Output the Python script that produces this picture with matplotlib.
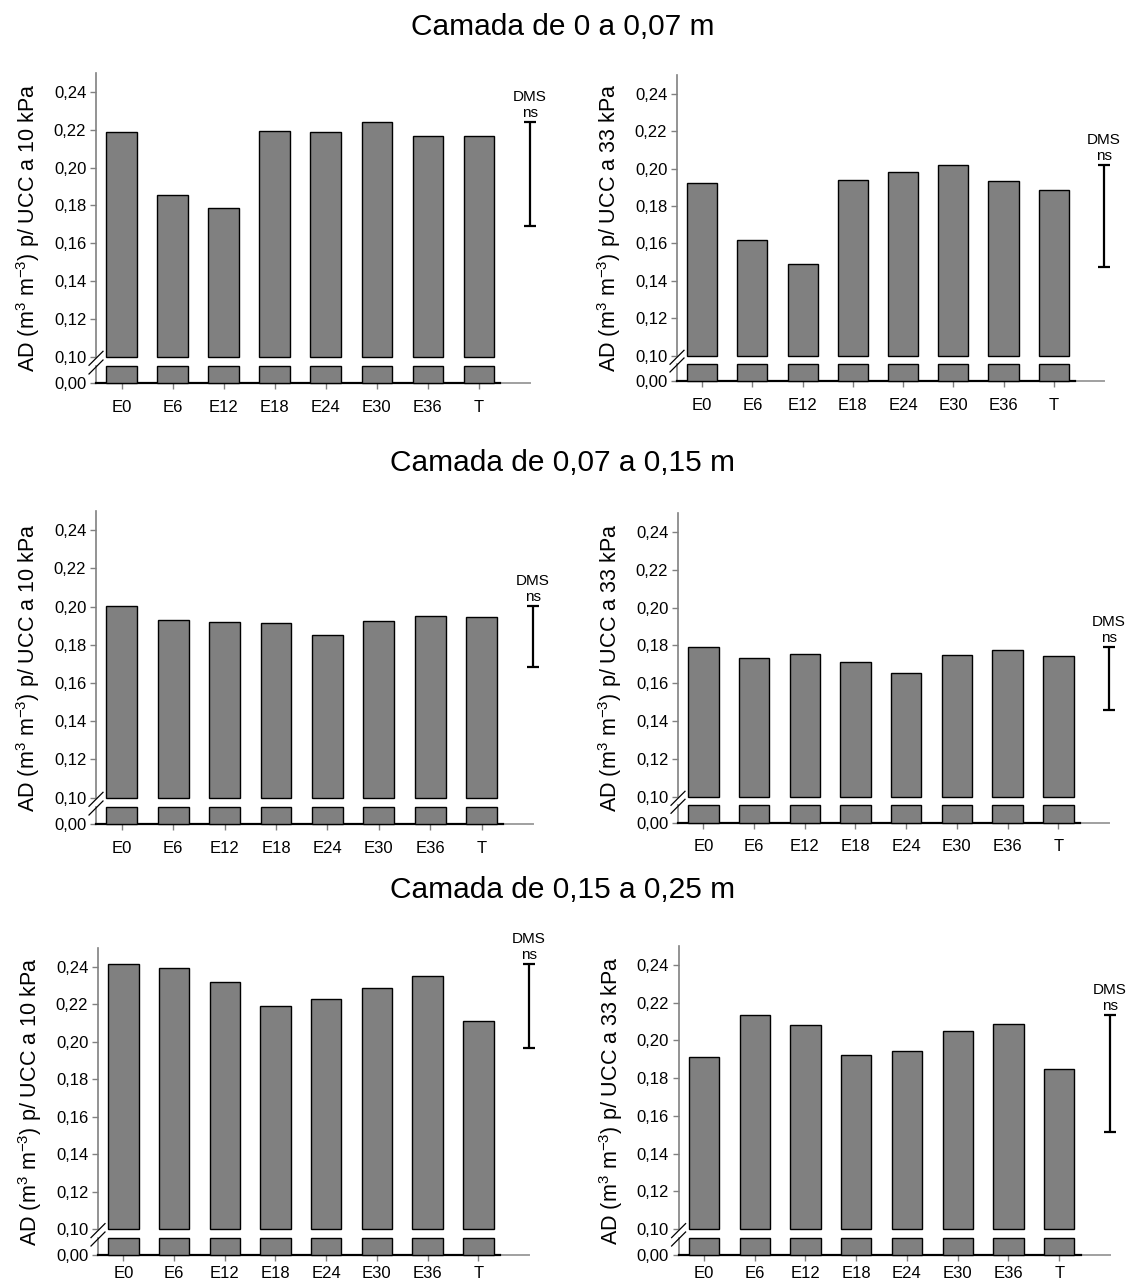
import numpy as np
import matplotlib
matplotlib.use("Agg")
import matplotlib.pyplot as plt

plt.rcParams['font.family'] = ['Liberation Sans', 'DejaVu Sans']
plt.rcParams['mathtext.fontset'] = 'custom'
plt.rcParams['mathtext.rm'] = 'Liberation Sans'
plt.rcParams['mathtext.it'] = 'Liberation Sans:italic'
plt.rcParams['mathtext.bf'] = 'Liberation Sans:bold'

# ---------------- data ----------------
categories = ["E0", "E6", "E12", "E18", "E24", "E30", "E36", "T"]
ytick_values = [0.10, 0.12, 0.14, 0.16, 0.18, 0.20, 0.22, 0.24]

titles = ["Camada de 0 a 0,07 m", "Camada de 0,07 a 0,15 m", "Camada de 0,15 a 0,25 m"]

# 10 kPa (left) and 33 kPa (right), one list per layer
ad10_layer1 = [0.2188, 0.1854, 0.1787, 0.2195, 0.2190, 0.2243, 0.2165, 0.2169]
ad33_layer1 = [0.1923, 0.1616, 0.1488, 0.1938, 0.1982, 0.2018, 0.1932, 0.1886]
ad10_layer2 = [0.2004, 0.1931, 0.1917, 0.1914, 0.1849, 0.1926, 0.1952, 0.1948]
ad33_layer2 = [0.1789, 0.1734, 0.1752, 0.1710, 0.1655, 0.1750, 0.1775, 0.1743]
ad10_layer3 = [0.2414, 0.2393, 0.2316, 0.2190, 0.2228, 0.2288, 0.2350, 0.2110]
ad33_layer3 = [0.1910, 0.2136, 0.2081, 0.1921, 0.1944, 0.2049, 0.2086, 0.1847]

# DMS bars (bottom, top)
dms10_layer1 = (0.1690, 0.2243)
dms33_layer1 = (0.1475, 0.2018)
dms10_layer2 = (0.1683, 0.2004)
dms33_layer2 = (0.1458, 0.1789)
dms10_layer3 = (0.1965, 0.2414)
dms33_layer3 = (0.1512, 0.2136)

ylabel10 = "AD (m$^3$ m$^{-3}$) p/ UCC a 10 kPa"
ylabel33 = "AD (m$^3$ m$^{-3}$) p/ UCC a 33 kPa"

# ---------------- layout (pixels) ----------------
W, H = 1131, 1283
fig = plt.figure(figsize=(W / 100, H / 100), dpi=100)

# x0, x1, top, break_low(0.10), lower_top, lower_bottom, xtick pad
layouts = [
    (96, 530, 73, 356.7, 366, 383, 8),
    (677, 1104, 75, 355.7, 364, 381, 8),
    (96, 533, 511, 797.7, 807, 824.3, 8),
    (678, 1109, 513, 796.7, 805.3, 822.7, 8),
    (98, 529, 948, 1229, 1238, 1255, 4),
    (678.6, 1110, 946, 1229, 1238, 1255, 4),
]
panels = [
    (ad10_layer1, dms10_layer1, ylabel10),
    (ad33_layer1, dms33_layer1, ylabel33),
    (ad10_layer2, dms10_layer2, ylabel10),
    (ad33_layer2, dms33_layer2, ylabel33),
    (ad10_layer3, dms10_layer3, ylabel10),
    (ad33_layer3, dms33_layer3, ylabel33),
]
title_y = [26.7, 463, 890]

BAR_COLOR = "#808080"
SPINE_GRAY = "#808080"
LOW_TOP = 0.01
TICK_FS = 12
x = np.arange(len(categories))

def fx(px):
    return px / W

def fy(py):
    return 1 - py / H

for (vals, dms, ylabel), (x0, x1, top, brk, ltop, lbot, xpad) in zip(panels, layouts):
    vals = np.asarray(vals)
    ax = fig.add_axes([fx(x0), fy(brk), fx(x1) - fx(x0), fy(top) - fy(brk)])
    axl = fig.add_axes([fx(x0), fy(lbot), fx(x1) - fx(x0), fy(ltop) - fy(lbot)])

    # upper bars
    ax.bar(x, vals - 0.10, bottom=0.10, width=0.6, color=BAR_COLOR,
           edgecolor="black", linewidth=1.0, clip_on=False, zorder=3)
    ax.set_ylim(0.10, 0.25)
    ax.set_xlim(-0.5, 8.0)
    ax.set_yticks(ytick_values)
    ax.set_yticklabels([f"{v:.2f}".replace(".", ",") for v in ytick_values])
    ax.set_xticks([])
    for s in ["top", "right", "bottom"]:
        ax.spines[s].set_visible(False)
    ax.spines["left"].set_color(SPINE_GRAY)
    ax.spines["left"].set_linewidth(1.2)
    ax.tick_params(axis="y", direction="out", length=4, width=1, color=SPINE_GRAY,
                   labelsize=TICK_FS, pad=3)
    ax.patch.set_alpha(0)

    # lower bars
    axl.bar(x, np.minimum(vals, LOW_TOP), width=0.6, color=BAR_COLOR,
            edgecolor="black", linewidth=1.0, clip_on=False, zorder=3)
    axl.set_ylim(0, LOW_TOP)
    axl.set_xlim(-0.5, 8.0)
    axl.set_yticks([0.0])
    axl.set_yticklabels(["0,00"])
    axl.set_xticks(x)
    axl.set_xticklabels(categories)
    for s in ["top", "right"]:
        axl.spines[s].set_visible(False)
    axl.spines["left"].set_color(SPINE_GRAY)
    axl.spines["left"].set_linewidth(1.2)
    axl.spines["bottom"].set_color("black")
    axl.spines["bottom"].set_linewidth(1.6)
    axl.spines["bottom"].set_bounds(-0.5, 7.42)
    axl.plot([7.42, 8.0], [0, 0], color="#a0a0a0", lw=1.4, clip_on=False,
             transform=axl.get_xaxis_transform())
    axl.tick_params(axis="y", direction="out", length=4, width=1, color=SPINE_GRAY,
                    labelsize=TICK_FS, pad=3)
    axl.tick_params(axis="x", direction="out", length=4, width=1, color=SPINE_GRAY,
                    labelsize=TICK_FS, pad=xpad)
    axl.patch.set_alpha(0)

    # break marks
    for yc in [(brk + 1.6), (ltop + 1.0)]:
        fig.add_artist(plt.Line2D([fx(x0 - 7), fx(x0 + 7)], [fy(yc + 7), fy(yc - 7)],
                                  color="black", lw=0.9))

    # DMS bar
    lo, hi = dms
    ax.errorbar([8.0], [(lo + hi) / 2], yerr=[(hi - lo) / 2], fmt="none",
                ecolor="black", elinewidth=1.6, capsize=4, capthick=1.6,
                clip_on=False, zorder=4)
    ax.annotate("ns", xy=(8.0, hi), xytext=(0, 1.5), textcoords="offset points",
                ha="center", va="bottom", fontsize=11, annotation_clip=False)
    ax.annotate("DMS", xy=(8.0, hi), xytext=(0, 13), textcoords="offset points",
                ha="center", va="bottom", fontsize=11, annotation_clip=False)

    # y label
    fig.text(fx(x0 - 68), fy((top + lbot) / 2), ylabel, rotation=90,
             ha="center", va="center", fontsize=15.5)

for t, yy in zip(titles, title_y):
    fig.text(fx(563), fy(yy), t, ha="center", va="center", fontsize=21.5)

fig.savefig("out.png", dpi=100)
